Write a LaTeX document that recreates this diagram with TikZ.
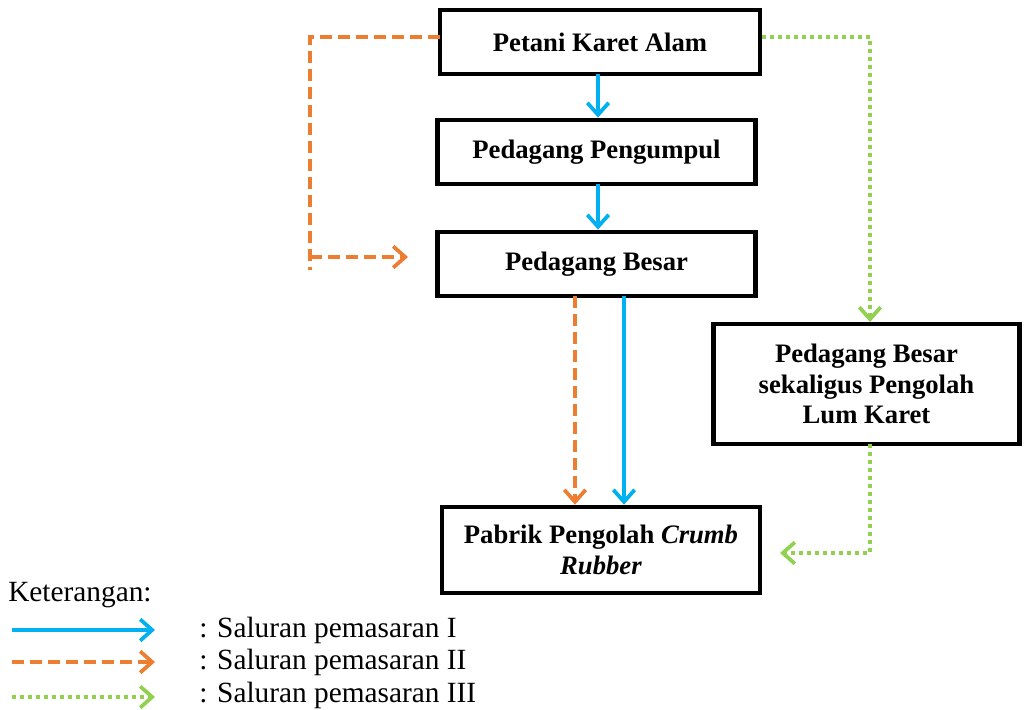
\documentclass[tikz,border=0pt]{standalone}
\usepackage{fontspec}
\setmainfont{Liberation Serif}[
  UprightFont={Liberation Serif},
  BoldFont={Liberation Serif Bold},
  ItalicFont={Liberation Serif Italic},
  BoldItalicFont={Liberation Serif Bold Italic}]
\usetikzlibrary{arrows.meta,calc}
\definecolor{cblue}{HTML}{00B0F0}
\definecolor{corange}{HTML}{ED7D31}
\definecolor{cgreen}{HTML}{92D050}
\tikzset{
  boxnode/.style={draw=black,line width=3.6pt,inner sep=0pt,align=center,
    font=\fontsize{20}{23}\selectfont\bfseries},
  tipstyle/.style={-{Straight Barb[length=9pt,width=16pt]}},
  saluranI/.style={tipstyle,draw=cblue,line width=2.8pt},
  saluranII/.style={tipstyle,draw=corange,line width=2.8pt,dash pattern=on 9pt off 4.5pt},
  saluranIII/.style={tipstyle,draw=cgreen,line width=2.8pt,dash pattern=on 3pt off 3pt},
  plainII/.style={draw=corange,line width=2.8pt,dash pattern=on 9pt off 4.5pt},
  plainIII/.style={draw=cgreen,line width=2.8pt,dash pattern=on 3pt off 3pt},
  legtext/.style={anchor=west,inner sep=0pt,font=\fontsize{22}{26}\selectfont}
}
\begin{document}
\begin{tikzpicture}[x=0.75pt,y=-0.75pt]
\useasboundingbox (0,0) rectangle (1024,710);
% boxes
\node[boxnode,minimum width=240pt,minimum height=48pt] (petani) at (600,42) {Petani Karet Alam};
\node[boxnode,minimum width=239pt,minimum height=48pt] (pengumpul) at (596.5,152) {Pedagang Pengumpul};
\node[boxnode,minimum width=239pt,minimum height=48pt] (besar) at (596.5,264) {Pedagang Besar};
\node[boxnode,minimum width=230pt,minimum height=90pt] (sekaligus) at (866.5,384) {Pedagang Besar\\sekaligus Pengolah\\Lum Karet};
\node[boxnode,minimum width=238.5pt,minimum height=64.5pt] (pabrik) at (601,550) {Pabrik Pengolah \textit{Crumb}\\\textit{Rubber}};
% coordinates
\coordinate (b1s) at (598,74);
\coordinate (b2s) at (598,184);
\coordinate (b3s) at (624,296);
\coordinate (o3s) at (575,296);
\coordinate (oStart) at (440,37);
\coordinate (oCorner) at (310,37);
\coordinate (oBottom) at (310,270);
\coordinate (oJoin) at (310,257);
\coordinate (oTip) at (408,257);
\coordinate (gStart) at (762,37);
\coordinate (gCorner) at (870,37);
\coordinate (gTop) at (870,322);
\coordinate (gS) at (870,444);
\coordinate (gCorner2) at (870,553);
\coordinate (gTip) at (780,553);
% saluran I
\draw[saluranI] (b1s) -- (b1s |- pengumpul.north);
\draw[saluranI] (b2s) -- (b2s |- besar.north);
\draw[saluranI] (b3s) -- (b3s |- pabrik.north);
% saluran II
\draw[plainII] (oStart) -- (oCorner) -- (oBottom);
\draw[saluranII] (oJoin) -- (oTip);
\draw[saluranII] (o3s) -- (o3s |- pabrik.north);
% saluran III
\draw[saluranIII] (gStart) -- (gCorner) -- (gTop);
\draw[saluranIII] (gS) -- (gCorner2) -- (gTip);
% legend
\node[legtext] (ket) at (8,595) {Keterangan:};
\coordinate (l1a) at (12,630); \coordinate (l1b) at (155,630);
\coordinate (l2a) at (12,662); \coordinate (l2b) at (155,662);
\coordinate (l3a) at (12,697); \coordinate (l3b) at (155,697);
\draw[saluranI] (l1a) -- (l1b);
\draw[saluranII] (l2a) -- (l2b);
\draw[saluranIII] (l3a) -- (l3b);
\node[legtext] (t1) at (199,630) {: Saluran pemasaran I};
\node[legtext] (t2) at (199,662) {: Saluran pemasaran II};
\node[legtext] (t3) at (199,695) {: Saluran pemasaran III};
\end{tikzpicture}
\end{document}
